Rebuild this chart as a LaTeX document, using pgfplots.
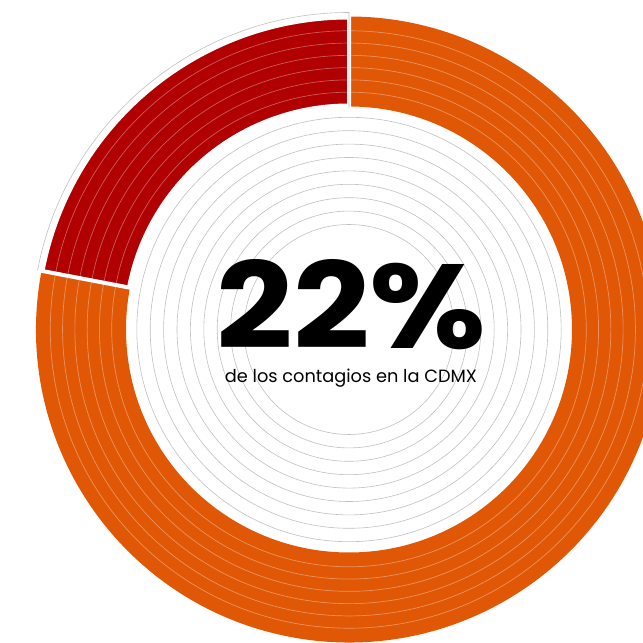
\documentclass[border=0pt]{standalone}
\usepackage{pgfplots}
\pgfplotsset{compat=1.18}
\usepackage{pgfplotstable}
\usepackage{fontspec}
\setmainfont{Poppins}
\newfontfamily\heavy{Poppins}[UprightFont={* Bold}]

\definecolor{cRed}{RGB}{176,0,2}
\definecolor{cOrange}{RGB}{224,88,6}
\definecolor{cGrid}{RGB}{192,192,192}

% share of infections (percent)
\pgfplotstableread{
share
22
78
}\sharetable

\def\px{0.5pt} % one reference pixel

% annulus sector: start angle, end angle, inner r, outer r
\newcommand\sector[4]{([shift={(#1:#4)}]axis cs:0,0)
  arc[start angle=#1, end angle=#2, radius=#4]
  -- ([shift={(#2:#3)}]axis cs:0,0)
  arc[start angle=#2, end angle=#1, radius=#3] -- cycle}

\begin{document}
\begin{tikzpicture}
\pgfplotstablegetelem{0}{share}\of\sharetable \let\shareA\pgfplotsretval
\pgfplotstablegetelem{1}{share}\of\sharetable \let\shareB\pgfplotsretval
\pgfmathsetmacro\aS{90}
\pgfmathsetmacro\aM{90+3.6*\shareA}
\pgfmathsetmacro\aE{\aM+3.6*\shareB}
\begin{axis}[
    name=ax,
    x=\px, y=\px,
    xmin=-349, xmax=294,
    ymin=-313.5, ymax=329.5,
    hide axis, clip=true,
]
    % grey guide circles inside the ring
    \pgfplotsinvokeforeach{105,118.4,131.8,145.2,158.6,172,185.4,198.8,212.2}{
        \draw[cGrid, line width=0.3pt] (axis cs:0,0) circle[radius=#1*\px];
    }

    % 78% segment
    \fill[cOrange] \sector{\aM}{\aE}{223*\px}{313*\px};
    % 22% segment, set off by a white gap
    \filldraw[fill=cRed, draw=white, line width=2pt] \sector{\aS}{\aM}{224*\px}{312*\px};
    \draw[cGrid, line width=0.3pt] ([shift={(90:222*\px)}]axis cs:0,0)
        -- ([shift={(90:317*\px)}]axis cs:0,0)
        arc[start angle=90, end angle=\aM, radius=317*\px];

    % thin bands within the ring
    \pgfplotsinvokeforeach{1,...,6}{
        \draw[white, opacity=0.35, line width=0.35pt]
            (axis cs:0,0) circle[radius={(225+#1*86/7)*\px}];
    }

    \node[anchor=base, inner sep=0pt] at (axis cs:2.7,-19.5)
        {\raisebox{0pt}[\height][0pt]{\resizebox{135pt}{44.5pt}{\heavy 22\%}}};
    \node[anchor=base, inner sep=0pt] at (axis cs:1.9,-53)
        {\resizebox{126pt}{!}{de los contagios en la CDMX}};
\end{axis}
\pgfresetboundingbox
\useasboundingbox (ax.south west) rectangle (ax.north east);
\end{tikzpicture}
\end{document}
